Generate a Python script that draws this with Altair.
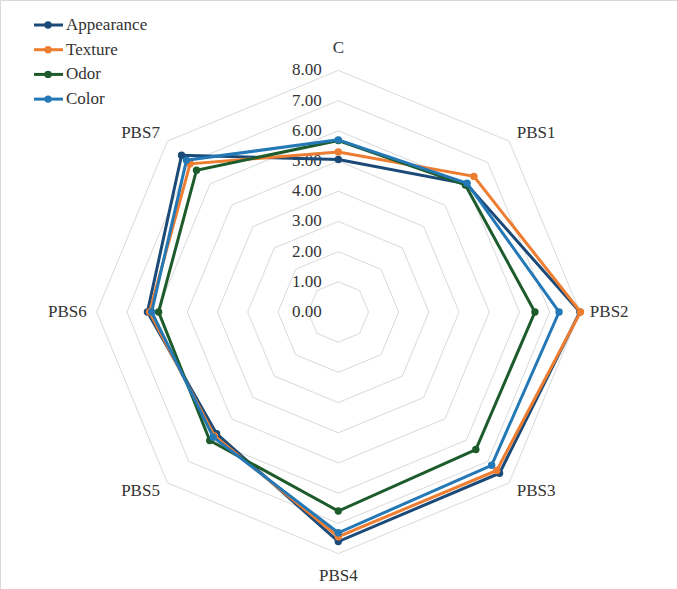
import altair as alt
import numpy as np
import pandas as pd

# Sensory scores per sample (radar spokes run clockwise from the top)
categories = ["C", "PBS1", "PBS2", "PBS3", "PBS4", "PBS5", "PBS6", "PBS7"]
series = ["Appearance", "Texture", "Odor", "Color"]
appearance = [5.05, 6.00, 8.00, 7.55, 7.60, 5.70, 6.32, 7.34]
texture = [5.30, 6.35, 8.02, 7.42, 7.44, 5.80, 6.25, 6.94]
odor = [5.68, 5.95, 6.51, 6.44, 6.59, 6.02, 5.95, 6.64]
color = [5.70, 6.03, 7.31, 7.18, 7.31, 5.86, 6.18, 7.11]
tick_values = [0, 1, 2, 3, 4, 5, 6, 7, 8]
palette = ["#1B4A78", "#ED7D31", "#1D5B2B", "#2378B5"]

values = dict(zip(series, [appearance, texture, odor, color]))
n = len(categories)
angles = [k * 2 * np.pi / n for k in range(n)]

FONT = "Liberation Serif"
TEXT = "#333333"
W, H = 677, 589
xs = alt.Scale(domain=[-11.202, 11.215], nice=False, zero=False)
ys = alt.Scale(domain=[-9.172, 10.331], nice=False, zero=False)


def polar(r, a):
    return r * np.sin(a), r * np.cos(a)


# Grid rings (octagons) for 1..8
ring_rows = []
for v in tick_values[1:]:
    for k in range(n + 1):
        x, y = polar(v, angles[k % n])
        ring_rows.append({"ring": v, "k": k, "x": x, "y": y})
rings = alt.Chart(pd.DataFrame(ring_rows)).mark_line(
    stroke="#D9D9D9", strokeWidth=1
).encode(
    x=alt.X("x:Q", scale=xs, axis=None),
    y=alt.Y("y:Q", scale=ys, axis=None),
    detail="ring:N",
    order="k:Q",
)

# Radial tick labels along the top spoke
tick_df = pd.DataFrame({"v": tick_values, "label": [f"{v:.2f}" for v in tick_values],
                        "x": [-0.55] * len(tick_values)})
ticks = alt.Chart(tick_df).mark_text(
    align="right", baseline="middle", font=FONT, fontSize=17, color=TEXT
).encode(
    x=alt.X("x:Q", scale=xs, axis=None),
    y=alt.Y("v:Q", scale=ys, axis=None),
    text="label:N",
)

# Category labels just outside the outer ring
lab_rows = []
for k, c in enumerate(categories):
    x, y = polar(tick_values[-1], angles[k])
    sx = np.sign(np.round(np.sin(angles[k]), 6))
    sy = np.sign(np.round(np.cos(angles[k]), 6))
    if sx == 0:
        y += sy * 0.75
        align = "center"
    elif sy == 0:
        x += sx * 0.33
        align = "left" if sx > 0 else "right"
    else:
        x += sx * 0.25
        y += sy * 0.26
        align = "left" if sx > 0 else "right"
    lab_rows.append({"cat": c, "x": x, "y": y, "align": align})
lab_df = pd.DataFrame(lab_rows)
cat_layers = []
for al in ["left", "center", "right"]:
    cat_layers.append(
        alt.Chart(lab_df[lab_df["align"] == al]).mark_text(
            align=al, baseline="middle", font=FONT, fontSize=17, color=TEXT
        ).encode(
            x=alt.X("x:Q", scale=xs, axis=None),
            y=alt.Y("y:Q", scale=ys, axis=None),
            text="cat:N",
        )
    )

# Series polygons and markers, drawn in legend order
series_layers = []
for s, col in zip(series, palette):
    rows = []
    for k in range(n + 1):
        v = values[s][k % n]
        x, y = polar(v, angles[k % n])
        rows.append({"series": s, "k": k, "value": v, "x": x, "y": y,
                     "cat": categories[k % n]})
    df = pd.DataFrame(rows)
    line = alt.Chart(df).mark_line(stroke=col, strokeWidth=3, strokeJoin="miter").encode(
        x=alt.X("x:Q", scale=xs, axis=None),
        y=alt.Y("y:Q", scale=ys, axis=None),
        order="k:Q",
    )
    pts = alt.Chart(df[df["k"] < n]).mark_point(
        filled=True, fill=col, size=55, opacity=1, shape="circle"
    ).encode(
        x=alt.X("x:Q", scale=xs, axis=None),
        y=alt.Y("y:Q", scale=ys, axis=None),
        tooltip=["series:N", "cat:N", "value:Q"],
    )
    series_layers += [line, pts]

# Legend in the top-left corner, built in the same coordinate space
leg_top, leg_step = 9.503, 0.818
leg_rows, leg_line_rows = [], []
for i, s in enumerate(series):
    y = leg_top - i * leg_step
    leg_rows.append({"series": s, "y": y, "xm": -9.61, "xt": -9.016})
    leg_line_rows += [{"series": s, "y": y, "x": -10.076, "k": 0},
                      {"series": s, "y": y, "x": -9.116, "k": 1}]
leg_df = pd.DataFrame(leg_rows)
leg_line_df = pd.DataFrame(leg_line_rows)
cscale = alt.Scale(domain=series, range=palette)
leg_lines = alt.Chart(leg_line_df).mark_line(strokeWidth=3).encode(
    x=alt.X("x:Q", scale=xs, axis=None),
    y=alt.Y("y:Q", scale=ys, axis=None),
    color=alt.Color("series:N", scale=cscale, legend=None),
    detail="series:N",
    order="k:Q",
)
leg_pts = alt.Chart(leg_df).mark_point(filled=True, size=55, opacity=1, shape="circle").encode(
    x=alt.X("xm:Q", scale=xs, axis=None),
    y=alt.Y("y:Q", scale=ys, axis=None),
    color=alt.Color("series:N", scale=cscale, legend=None),
)
leg_txt = alt.Chart(leg_df).mark_text(
    align="left", baseline="middle", font=FONT, fontSize=17, color=TEXT
).encode(
    x=alt.X("xt:Q", scale=xs, axis=None),
    y=alt.Y("y:Q", scale=ys, axis=None),
    text="series:N",
)

chart = alt.layer(
    rings, ticks, *cat_layers, *series_layers, leg_lines, leg_pts, leg_txt
).properties(
    width=W, height=H, autosize=alt.AutoSizeParams(type="none"), padding=0,
    background="white",
).configure(font=FONT).configure_text(font=FONT).configure_view(
    stroke="#D9D9D9", strokeWidth=1
)

chart.save("out.html", embed_options={"renderer": "svg", "actions": False})
